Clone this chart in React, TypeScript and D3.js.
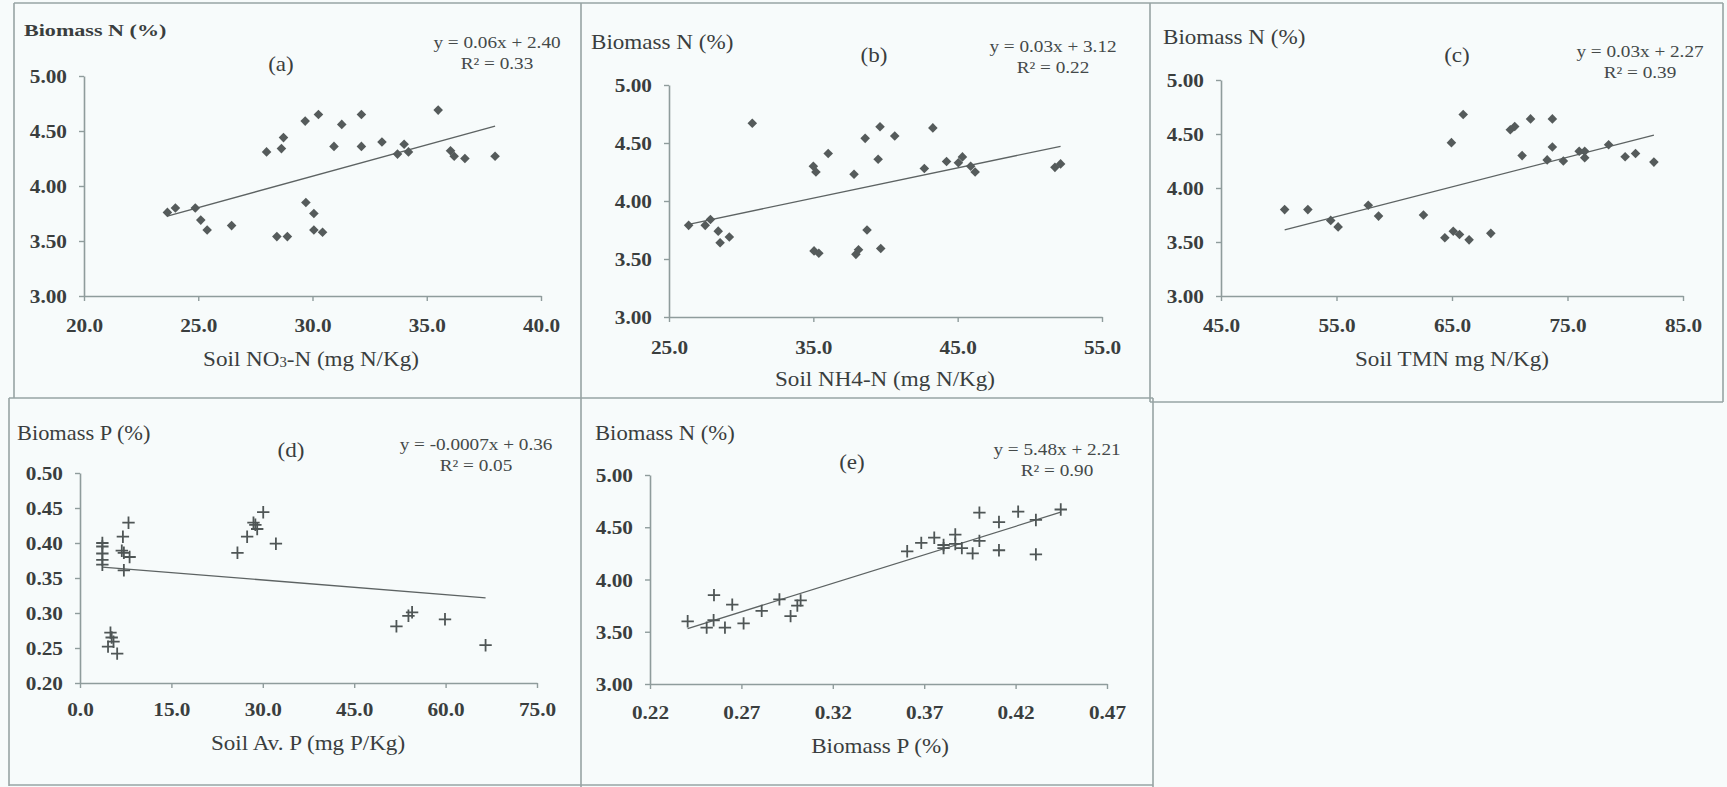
import { useRef, useEffect } from "react";
import * as d3 from "d3";

// (a) soil NO3-N vs biomass N
const aSoilNO3 = [23.65, 24.0, 24.87, 25.11, 25.39, 26.46, 27.99, 28.64, 28.73, 28.44, 28.9, 29.68, 29.71, 30.06, 30.06, 30.44, 30.26, 30.94, 31.28, 32.14, 32.14, 33.04, 33.72, 34.01, 34.2, 35.5, 36.04, 36.2, 36.67, 37.99];
const aBiomassN = [3.76, 3.8, 3.8, 3.69, 3.6, 3.64, 4.31, 4.34, 4.44, 3.54, 3.54, 4.59, 3.85, 3.75, 3.6, 3.58, 4.65, 4.36, 4.56, 4.65, 4.36, 4.4, 4.29, 4.38, 4.31, 4.69, 4.32, 4.27, 4.25, 4.27];

// (b) soil NH4-N vs biomass N
const bSoilNH4 = [26.36, 27.51, 27.87, 28.41, 28.54, 29.18, 30.77, 35.0, 35.18, 35.05, 35.38, 36.03, 37.82, 37.95, 38.13, 38.59, 38.72, 39.49, 39.62, 39.67, 40.64, 42.69, 43.28, 44.23, 45.05, 45.33, 45.9, 46.21, 51.74, 52.13];
const bBiomassN = [3.79, 3.79, 3.84, 3.74, 3.64, 3.69, 4.67, 4.3, 4.25, 3.57, 3.55, 4.41, 4.23, 3.54, 3.58, 4.54, 3.75, 4.36, 4.64, 3.59, 4.56, 4.28, 4.63, 4.34, 4.33, 4.38, 4.3, 4.25, 4.29, 4.32];

// (c) soil TMN vs biomass N
const cSoilTMN = [50.51, 52.52, 54.5, 55.14, 57.75, 58.64, 62.53, 64.38, 65.11, 65.65, 66.48, 64.95, 65.97, 68.36, 70.05, 70.43, 71.07, 71.8, 73.24, 73.69, 73.69, 74.64, 76.01, 76.49, 76.49, 78.56, 79.99, 80.89, 82.48];
const cBiomassN = [3.8, 3.8, 3.7, 3.64, 3.84, 3.74, 3.75, 3.54, 3.6, 3.57, 3.52, 4.42, 4.68, 3.58, 4.54, 4.57, 4.3, 4.64, 4.26, 4.38, 4.64, 4.25, 4.34, 4.34, 4.28, 4.4, 4.29, 4.32, 4.24];

// (d) soil available P vs biomass P
const dSoilAvP = [3.67, 3.67, 3.67, 3.67, 3.67, 4.6, 5.0, 5.2, 5.5, 6.1, 7.04, 6.86, 7.2, 7.2, 7.96, 8.14, 25.84, 27.43, 28.47, 28.78, 29.08, 30.07, 32.15, 51.93, 53.9, 54.5, 59.9, 66.56];
const dBiomassP = [0.4, 0.395, 0.385, 0.376, 0.369, 0.252, 0.272, 0.265, 0.259, 0.242, 0.409, 0.389, 0.386, 0.361, 0.429, 0.38, 0.386, 0.409, 0.429, 0.426, 0.42, 0.444, 0.399, 0.281, 0.296, 0.301, 0.291, 0.254];

// (e) biomass P vs biomass N
const eBiomassP = [0.2406, 0.251, 0.2548, 0.255, 0.261, 0.265, 0.2712, 0.2811, 0.2908, 0.2969, 0.3006, 0.3024, 0.3607, 0.3684, 0.3755, 0.3806, 0.3806, 0.387, 0.387, 0.3906, 0.3965, 0.4002, 0.4002, 0.4109, 0.4109, 0.4214, 0.4311, 0.4311, 0.4447];
const eBiomassN = [3.6, 3.54, 3.61, 3.85, 3.54, 3.76, 3.58, 3.7, 3.81, 3.65, 3.75, 3.8, 4.27, 4.35, 4.4, 4.3, 4.33, 4.43, 4.34, 4.3, 4.25, 4.64, 4.37, 4.55, 4.28, 4.65, 4.57, 4.24, 4.67];

const nTicks = [3.0, 3.5, 4.0, 4.5, 5.0];
const pTicks = [0.2, 0.25, 0.3, 0.35, 0.4, 0.45, 0.5];
const aTicks = [20, 25, 30, 35, 40];
const bTicks = [25, 35, 45, 55];
const cTicks = [45, 55, 65, 75, 85];
const dTicks = [0, 15, 30, 45, 60, 75];
const eTicks = [0.22, 0.27, 0.32, 0.37, 0.42, 0.47];

const equations = ["y = 0.06x + 2.40", "y = 0.03x + 3.12", "y = 0.03x + 2.27", "y = -0.0007x + 0.36", "y = 5.48x + 2.21"];
const rSquared = ["R² = 0.33", "R² = 0.22", "R² = 0.39", "R² = 0.05", "R² = 0.90"];

const W = 1727;
const H = 787;
const FONT = "'Liberation Serif', 'Times New Roman', serif";
const BG = "#f7fbfb";
const FRAME = "#97a4a4";
const AXIS = "#8f9c9c";
const INK = "#3a3e3e";

const panels = [
  {
    letter: "(a)", xs: aSoilNO3, ys: aBiomassN, xd: [20, 40], yd: [3, 5], xr: [84, 541], yr: [296, 76],
    xt: aTicks, yt: nTicks, xf: ".1f", yf: ".2f", marker: "diamond",
    yLab: "Biomass N (%)", yLabPos: [24, 30], yLabSize: 17, yLabSx: 1.3, yLabBold: true,
    letterPos: [281, 64], eqPos: [497, 43],
    title: ["Soil NO", "3", "-N (mg N/Kg)"], titlePos: [311, 358], tickDy: 29,
  },
  {
    letter: "(b)", xs: bSoilNH4, ys: bBiomassN, xd: [25, 55], yd: [3, 5], xr: [669, 1102], yr: [317, 85],
    xt: bTicks, yt: nTicks, xf: ".1f", yf: ".2f", marker: "diamond",
    yLab: "Biomass N (%)", yLabPos: [591, 42], yLabSize: 21, yLabSx: 1.1, yLabBold: false,
    letterPos: [874, 55], eqPos: [1053, 47],
    title: ["Soil NH4-N (mg N/Kg)"], titlePos: [885, 378], tickDy: 30,
  },
  {
    letter: "(c)", xs: cSoilTMN, ys: cBiomassN, xd: [45, 85], yd: [3, 5], xr: [1221, 1683], yr: [296, 80],
    xt: cTicks, yt: nTicks, xf: ".1f", yf: ".2f", marker: "diamond",
    yLab: "Biomass N (%)", yLabPos: [1163, 37], yLabSize: 21, yLabSx: 1.1, yLabBold: false,
    letterPos: [1457, 55], eqPos: [1640, 52],
    title: ["Soil TMN mg N/Kg)"], titlePos: [1452, 358], tickDy: 29,
  },
  {
    letter: "(d)", xs: dSoilAvP, ys: dBiomassP, xd: [0, 75], yd: [0.2, 0.5], xr: [80, 537], yr: [683, 473],
    xt: dTicks, yt: pTicks, xf: ".1f", yf: ".2f", marker: "plus",
    yLab: "Biomass P (%)", yLabPos: [17, 433], yLabSize: 20, yLabSx: 1.12, yLabBold: false,
    letterPos: [291, 450], eqPos: [476, 445],
    title: ["Soil Av. P (mg P/Kg)"], titlePos: [308, 742], tickDy: 26,
  },
  {
    letter: "(e)", xs: eBiomassP, ys: eBiomassN, xd: [0.22, 0.47], yd: [3, 5], xr: [650, 1107], yr: [684, 475],
    xt: eTicks, yt: nTicks, xf: ".2f", yf: ".2f", marker: "plus",
    yLab: "Biomass  N (%)", yLabPos: [595, 433], yLabSize: 21, yLabSx: 1.08, yLabBold: false,
    letterPos: [852, 462], eqPos: [1057, 450],
    title: ["Biomass P (%)"], titlePos: [880, 745], tickDy: 28,
  },
];

const addText = (g, x, y, str, size, anchor, sx = 1, weight = "normal", fill = INK) =>
  g
    .append("text")
    .attr("transform", `translate(${x},${y}) scale(${sx},1)`)
    .attr("text-anchor", anchor)
    .attr("dominant-baseline", "central")
    .attr("font-family", FONT)
    .attr("font-size", size)
    .attr("font-weight", weight)
    .attr("fill", fill)
    .text(str);

const ChartGrid = () => {
  const svgRef = useRef(null);

  useEffect(() => {
    const svg = d3.select(svgRef.current);
    svg.selectAll("*").remove();

    svg.append("rect").attr("width", W).attr("height", H).attr("fill", BG);

    // panel frames
    const frame = svg.append("g").attr("stroke", FRAME).attr("stroke-width", 1.6).attr("fill", "none");
    const seg = (x1, y1, x2, y2) => frame.append("line").attr("x1", x1).attr("y1", y1).attr("x2", x2).attr("y2", y2);
    seg(14, 3, 1723, 3);
    seg(14, 3, 14, 398);
    seg(581, 3, 581, 787);
    seg(1150, 3, 1150, 402);
    seg(1723, 3, 1723, 402);
    seg(9, 398, 1153, 398);
    seg(1150, 402, 1723, 402);
    seg(9, 398, 9, 786);
    seg(1153, 398, 1153, 787);
    seg(9, 785, 1153, 785);

    panels.forEach((p, i) => {
      const g = svg.append("g");
      const x = d3.scaleLinear().domain(p.xd).range(p.xr);
      const y = d3.scaleLinear().domain(p.yd).range(p.yr);

      const gx = g
        .append("g")
        .attr("transform", `translate(0,${p.yr[0]})`)
        .call(d3.axisBottom(x).tickValues(p.xt).tickSize(5).tickSizeOuter(0).tickFormat(d3.format(p.xf)));
      const gy = g
        .append("g")
        .attr("transform", `translate(${p.xr[0]},0)`)
        .call(d3.axisLeft(y).tickValues(p.yt).tickSize(5).tickSizeOuter(0).tickFormat(d3.format(p.yf)));

      [gx, gy].forEach(ax => {
        ax.select(".domain").attr("stroke", AXIS).attr("stroke-width", 1.6);
        ax.selectAll(".tick line").attr("stroke", AXIS).attr("stroke-width", 1.4);
        ax.selectAll("text")
          .attr("font-family", FONT)
          .attr("font-size", 19)
          .attr("font-weight", "bold")
          .attr("fill", INK);
      });
      gx.selectAll("text").attr("y", p.tickDy).attr("dy", "0.35em").attr("transform", "scale(1.12,1)");
      gy.selectAll("text").attr("x", -17).attr("dy", "0.35em").attr("transform", "scale(1.12,1)");
      gy.selectAll("text").attr("x", -17 / 1.12);

      // least-squares trend line from the points
      const mx = d3.mean(p.xs);
      const my = d3.mean(p.ys);
      const sxy = d3.sum(p.xs, (v, k) => (v - mx) * (p.ys[k] - my));
      const sxx = d3.sum(p.xs, v => (v - mx) ** 2);
      const slope = sxy / sxx;
      const icpt = my - slope * mx;
      const [x0, x1] = d3.extent(p.xs);
      g.append("path")
        .datum([x0, x1])
        .attr("d", d3.line().x(v => x(v)).y(v => y(slope * v + icpt)))
        .attr("stroke", "#5d6363")
        .attr("stroke-width", 1.3)
        .attr("fill", "none");

      const pts = p.xs.map((v, k) => [v, p.ys[k]]);
      if (p.marker === "diamond") {
        g.selectAll(".pt")
          .data(pts)
          .join("path")
          .attr("d", d3.symbol(d3.symbolSquare, 46))
          .attr("transform", d => `translate(${x(d[0])},${y(d[1])}) rotate(45)`)
          .attr("fill", "#555b5b");
      } else {
        g.selectAll(".pt")
          .data(pts)
          .join("path")
          .attr("d", d3.symbol(d3.symbolPlus, 52))
          .attr("transform", d => `translate(${x(d[0])},${y(d[1])})`)
          .attr("stroke", "#4f5656")
          .attr("stroke-width", 1.8)
          .attr("fill", "none");
      }

      addText(g, p.yLabPos[0], p.yLabPos[1], p.yLab, p.yLabSize, "start", p.yLabSx, p.yLabBold ? "bold" : "normal");
      addText(g, p.letterPos[0], p.letterPos[1], p.letter, 21, "middle", 1.1);
      addText(g, p.eqPos[0], p.eqPos[1], equations[i], 16, "middle", 1.2, "normal", "#444949");
      addText(g, p.eqPos[0], p.eqPos[1] + 21, rSquared[i], 16, "middle", 1.2, "normal", "#444949");

      const t = addText(g, p.titlePos[0], p.titlePos[1], "", 22, "middle", 1.05);
      t.append("tspan").text(p.title[0]);
      if (p.title.length > 1) {
        t.append("tspan").attr("font-size", 14).attr("dy", 4).text(p.title[1]);
        t.append("tspan").attr("dy", -4).text(p.title[2]);
      }
    });
  }, []);

  return <svg ref={svgRef} width={W} height={H} style={{ position: "absolute", left: 0, top: 0 }} />;
};

export default function App() {
  return <ChartGrid />;
}
